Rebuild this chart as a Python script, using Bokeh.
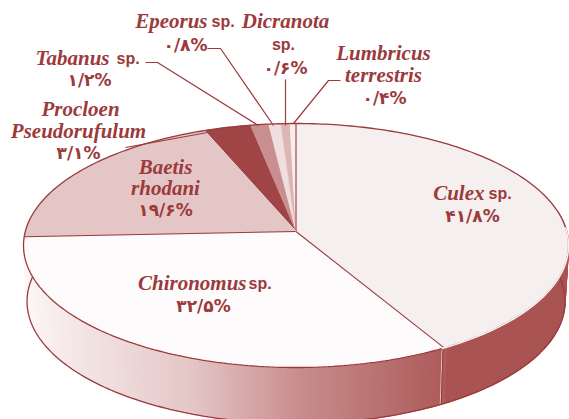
import numpy as np
from bokeh.plotting import figure
from bokeh.models import Range1d
from bokeh.core.properties import value
from bokeh.embed import file_html
from bokeh.resources import INLINE

species = ["Culex", "Chironomus", "Baetis rhodani", "Procloeon Pseudorufulum",
           "Tabanus", "Epeorus", "Dicranota", "Lumbricus terrestris"]
shares = [41.8, 32.5, 19.6, 3.1, 1.2, 0.8, 0.6, 0.4]
percent_labels = ["۴۱/۸%", "۳۲/۵%", "۱۹/۶%", "۳/۱%", "۱/۲%", "۰/۸%", "۰/۶%", "۰/۴%"]
slice_colors = ["#f5eff0", "#fdfbfc", "#e4c6c7", "#a04446", "#c98f90", "#f0dede", "#dcb6b7", "#f9eeee"]

INK = "#9c3a3c"
CX, CY, R, A, K = 295.5, 231.0, 270.7, 120.4, 0.1148
DEPTH, LOWER = 56.0, 0.987


def top(deg):
    t = np.radians(np.asarray(deg, dtype=float))
    X, Y = np.sin(t), np.cos(t)
    w = 1 + K * Y
    return CX + R * X / w, CY - A * Y / w


def bottom(deg):
    x, y = top(deg)
    return CX + (x - CX) * LOWER, y + DEPTH


cum = np.cumsum([0] + shares) / sum(shares) * 360.0

p = figure(width=569, height=419, output_backend="svg", toolbar_location=None,
           x_range=Range1d(0, 569), y_range=Range1d(419, 0), min_border=0,
           outline_line_color=None, background_fill_color="white", border_fill_color="white")
p.axis.visible = False
p.grid.visible = False

# side wall, split in narrow strips so the shading follows screen x
stops_x = [24, 60, 190, 300, 443]
stops_rgb = np.array([[253, 247, 247], [246, 234, 234], [228, 198, 198], [200, 140, 140], [172, 92, 90]])
edges = np.arange(80.0, 292.0, 1.0)
xs, ys, cols = [], [], []
for a0, a1 in zip(edges[:-1], edges[1:]):
    tx, ty = top([a0, a1])
    bx, by = bottom([a0, a1])
    xs.append([tx[0], tx[1], bx[1], bx[0]])
    ys.append([ty[0], ty[1], by[1], by[0]])
    mid = (a0 + a1) / 2
    if mid < cum[1]:
        cols.append("#a95452")
    else:
        mx = float(top(mid)[0])
        rgb = [np.interp(mx, stops_x, stops_rgb[:, i]) for i in range(3)]
        cols.append("#%02x%02x%02x" % tuple(int(round(c)) for c in rgb))
p.patches(xs, ys, fill_color=cols, line_color=cols, line_width=1.4)

# wall lines
wall = np.arange(80.0, 292.0, 1.0)
bx, by = bottom(wall)
p.line(bx, by, line_color=INK, line_width=1.3)
sx, sy = top(cum[1]), bottom(cum[1])
p.line([float(sx[0]) - 2, float(sy[0]) - 2], [float(sx[1]), float(sy[1])], line_color="#e6c4c4", line_width=1.0)
p.line([float(sx[0]) - 1, float(sy[0]) - 1], [float(sx[1]), float(sy[1])], line_color=INK, line_width=1.0)

# top surface
wx, wy = [], []
for i in range(len(shares)):
    arc = np.linspace(cum[i], cum[i + 1], max(3, int(shares[i] * 8)))
    ax, ay = top(arc)
    wx.append([CX] + list(ax))
    wy.append([CY] + list(ay))
p.patches(wx, wy, fill_color=slice_colors, line_color=slice_colors, line_width=0.4)

# outlines
for i in range(3):
    e = top(cum[i])
    p.line([CX, float(e[0])], [CY, float(e[1])], line_color=INK, line_width=1.1)
e = top(cum[3])
p.line([CX, float(e[0])], [CY, float(e[1])], line_color="white", line_width=0.8)
rim = np.arange(0.0, 361.0, 1.0)
rx, ry = top(rim)
p.line(rx, ry, line_color=INK, line_width=1.3)
front = np.arange(88.0, float(cum[1]) + 1, 1.0)
fx, fy = top(front)
p.line(fx, fy, line_color="#fbf3f3", line_width=1.5)

# leaders
leaders_x = [[145, 157, 258], [207, 220, 273], [285, 285], [340, 328, 293], [125, 207]]
leaders_y = [[62, 62, 125], [48, 48, 125], [79, 125], [80, 80, 123], [147, 132]]
p.multi_line(leaders_x, leaders_y, line_color=INK, line_width=1.2)


def put(x, y, txt, font, style, size, align="center"):
    p.text([x], [y], text=[txt], text_font=value(font), text_font_style=style,
           text_font_size=size, text_color=INK, text_align=align, text_baseline="middle")


SERIF, SANS, PERS = "Liberation Serif", "Liberation Sans", "DejaVu Sans"
NAME = "21px"
put(207, 20, "Epeorus", SERIF, "bold italic", NAME, "right")
put(285, 20, "Dicranota", SERIF, "bold italic", NAME)
put(109, 57, "Tabanus", SERIF, "bold italic", NAME, "right")
put(80, 108, "Procloen", SERIF, "bold italic", NAME)
put(78, 130, "Pseudorufulum", SERIF, "bold italic", NAME)
put(165, 166, "Baetis", SERIF, "bold italic", NAME)
put(165, 187, "rhodani", SERIF, "bold italic", NAME)
put(383, 52, "Lumbricus", SERIF, "bold italic", NAME)
put(383, 74, "terrestris", SERIF, "bold italic", NAME)
put(484, 192, "Culex", SERIF, "bold italic", NAME, "right")
put(246, 282, "Chironomus", SERIF, "bold italic", NAME, "right")
for x, y in [(211, 21), (116, 58), (488, 193), (248, 283)]:
    put(x, y, "sp.", SANS, "bold", "16px", "left")
put(283, 44, "sp.", SANS, "bold", "16px")
pct_x = [472, 203, 165, 78, 89, 185, 285, 384]
pct_y = [215, 305, 209, 152, 79, 44, 67, 97]
for x, y, t in zip(pct_x, pct_y, percent_labels):
    put(x, y, t, PERS, "bold", "17px")

open("out.html", "w").write(file_html(p, INLINE))
